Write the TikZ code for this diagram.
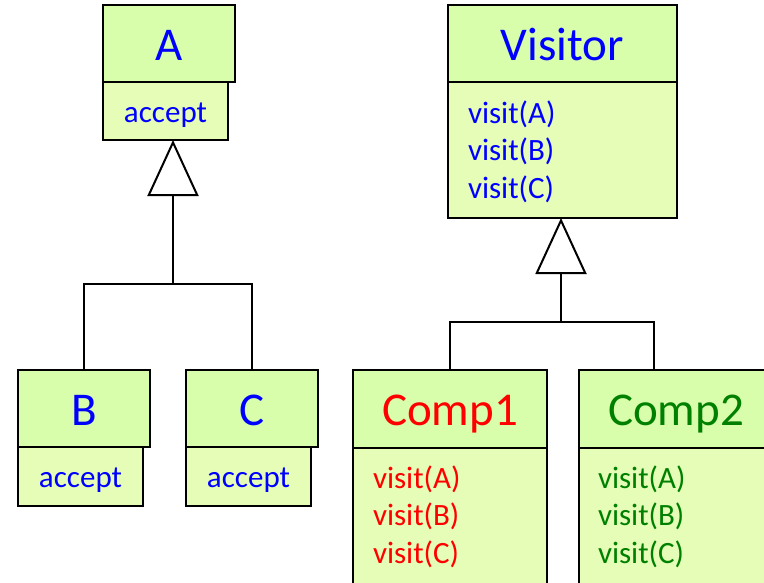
\documentclass[tikz,border=0pt]{standalone}
\usepackage{fontspec}
\setmainfont{Carlito}
\usetikzlibrary{arrows.meta}

\definecolor{headfill}{HTML}{D8FDAB}
\definecolor{bodyfill}{HTML}{E5FDB6}
\definecolor{compred}{HTML}{FF0000}
\definecolor{compgreen}{HTML}{008000}
\newcommand{\headfont}{\fontsize{47}{55}\selectfont}
\newcommand{\bodyfont}{\fontsize{31}{37.5}\selectfont}

\begin{document}
\begin{tikzpicture}
[x=1pt, y=-1pt,
 every node/.style={inner sep=0pt, outer sep=0pt},
 head/.style={rectangle, anchor=north west, fill=headfill, draw=black, line width=1.5pt, font=\headfont, text height=33pt, text depth=0pt},
 body/.style={rectangle, anchor=north west, fill=bodyfill, draw=black, line width=1.5pt, font=\bodyfont, text height=22pt, text depth=0pt},
 ops/.style={anchor=base west, align=left, font=\bodyfont},
 wire/.style={line width=2pt, draw=black},
 gen/.style={line width=2pt, draw=black, -{Triangle[open, length=56pt, width=51pt]}}]
\clip (0,0) rectangle (764,582);
\fill[white] (0,0) rectangle (764,582);
% element hierarchy
\node (Aacc) [body, minimum width=125pt, minimum height=58pt] at (103,82) {\textcolor{blue}{accept}};
\node (A) [head, minimum width=132pt, minimum height=77pt] at (103,5) {\textcolor{blue}{A}};
\node (Bacc) [body, minimum width=125pt, minimum height=59pt] at (18,447) {\textcolor{blue}{accept}};
\node (B) [head, minimum width=132pt, minimum height=77pt] at (18,370) {\textcolor{blue}{B}};
\node (Cacc) [body, minimum width=125pt, minimum height=59pt] at (186,447) {\textcolor{blue}{accept}};
\node (C) [head, minimum width=132pt, minimum height=77pt] at (186,370) {\textcolor{blue}{C}};
\coordinate (jA) at (173,284);
\draw [wire] (B.north) |- (jA) -| (C.north);
\draw [gen] (jA) -- (jA |- Aacc.south);
% visitor hierarchy
\node (Vbody) [body, minimum width=229pt, minimum height=136pt] at (448,82) {};
\node (V) [head, minimum width=229pt, minimum height=77pt] at (448,5) {\textcolor{blue}{Visitor}};
\node (Vops) [ops, text=blue] at (468,198) {visit(A)\\visit(B)\\visit(C)};
\node (K1body) [body, minimum width=194pt, minimum height=160pt] at (353,448) {};
\node (K1) [head, minimum width=194pt, minimum height=78pt] at (353,370) {\textcolor{compred}{Comp1}};
\node (K1ops) [ops, text=compred] at (373,563) {visit(A)\\visit(B)\\visit(C)};
\node (K2body) [body, minimum width=194pt, minimum height=160pt] at (579,448) {};
\node (K2) [head, minimum width=194pt, minimum height=78pt] at (579,370) {\textcolor{compgreen}{Comp2}};
\node (K2ops) [ops, text=compgreen] at (598,563) {visit(A)\\visit(B)\\visit(C)};
\coordinate (jV) at (561,322);
\coordinate (K2top) at (654,370);
\draw [wire] (K1.north) |- (jV) -| (K2top);
\draw [gen] (jV) -- (jV |- Vbody.south);
\end{tikzpicture}
\end{document}
